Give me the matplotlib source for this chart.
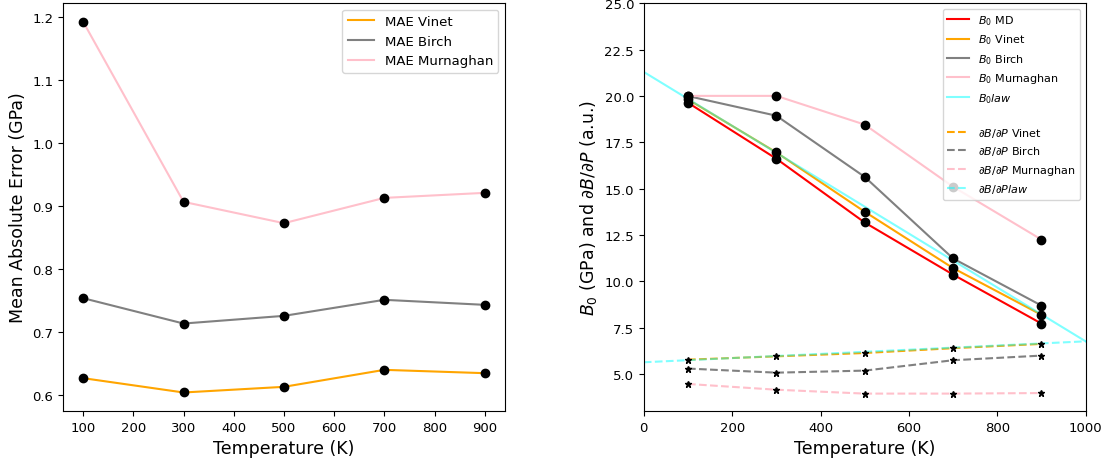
import numpy as np
import matplotlib
matplotlib.use("Agg")
import matplotlib.pyplot as plt

T = [100, 300, 500, 700, 900]

# left panel: MAE
mae_vinet = [0.6265, 0.6037, 0.6127, 0.6397, 0.6344]
mae_birch = [0.7536, 0.7133, 0.7255, 0.7510, 0.7430]
mae_murn = [1.193, 0.9067, 0.8728, 0.9130, 0.9210]

# right panel: B0 and dB/dP
b0_md = [19.63, 16.61, 13.17, 10.36, 7.72]
b0_vinet = [19.81, 16.95, 13.75, 10.71, 8.19]
b0_birch = [19.99, 18.93, 15.63, 11.23, 8.69]
b0_murn = [20.0, 20.0, 18.45, 15.10, 12.25]
T_law = [0, 1000]
b0_law = [21.29, 6.76]

dbdp_vinet = [5.77, 5.95, 6.13, 6.39, 6.62]
dbdp_birch = [5.29, 5.07, 5.18, 5.74, 5.99]
dbdp_murn = [4.46, 4.15, 3.94, 3.94, 3.97]
dbdp_law = [5.63, 6.76]

fig = plt.figure(figsize=(11.1, 4.64), dpi=100)
ax1 = fig.add_axes([0.0568, 0.112, 0.398, 0.879])
ax2 = fig.add_axes([0.580, 0.112, 0.398, 0.879])

# left
ax1.plot(T, mae_vinet, color='orange', label='MAE Vinet')
ax1.plot(T, mae_birch, color='grey', label='MAE Birch')
ax1.plot(T, mae_murn, color='pink', label='MAE Murnaghan')
for y in (mae_vinet, mae_birch, mae_murn):
    ax1.plot(T, y, 'ko', ms=6)
ax1.set_xticks(T + [200, 400, 600, 800])
ax1.set_xlabel('Temperature (K)', fontsize=12.5)
ax1.set_ylabel('Mean Absolute Error (GPa)', fontsize=12.5)
ax1.tick_params(labelsize=9.5)
ax1.legend(loc='upper right', fontsize=9.5)

# right
ax2.plot(T, b0_md, color='red', label='$B_0$ MD')
ax2.plot(T, b0_vinet, color='orange', label='$B_0$ Vinet')
ax2.plot(T, b0_birch, color='grey', label='$B_0$ Birch')
ax2.plot(T, b0_murn, color='pink', label='$B_0$ Murnaghan')
ax2.plot(T_law, b0_law, color='cyan', alpha=0.5, label='$B_0 law$')
for y in (b0_md, b0_vinet, b0_birch, b0_murn):
    ax2.plot(T, y, 'ko', ms=6)
ax2.plot([], [], ' ', label=' ')
ax2.plot(T, dbdp_vinet, '--', color='orange', label=r'$\partial B/\partial P$ Vinet')
ax2.plot(T, dbdp_birch, '--', color='grey', label=r'$\partial B/\partial P$ Birch')
ax2.plot(T, dbdp_murn, '--', color='pink', label=r'$\partial B/\partial P$ Murnaghan')
ax2.plot(T_law, dbdp_law, '--', color='cyan', alpha=0.5, label=r'$\partial B/\partial P law$')
for y in (dbdp_vinet, dbdp_birch, dbdp_murn):
    ax2.plot(T, y, 'k*', ms=5)
ax2.set_xlim(0, 1000)
ax2.set_ylim(3, 25)
ax2.set_xlabel('Temperature (K)', fontsize=12.5)
ax2.set_ylabel(r'$B_0$ (GPa) and $\partial B/\partial P$ (a.u.)', fontsize=12.5)
ax2.tick_params(labelsize=9.5)
ax2.legend(loc='upper right', fontsize=8)

fig.savefig('out.png', dpi=100)
